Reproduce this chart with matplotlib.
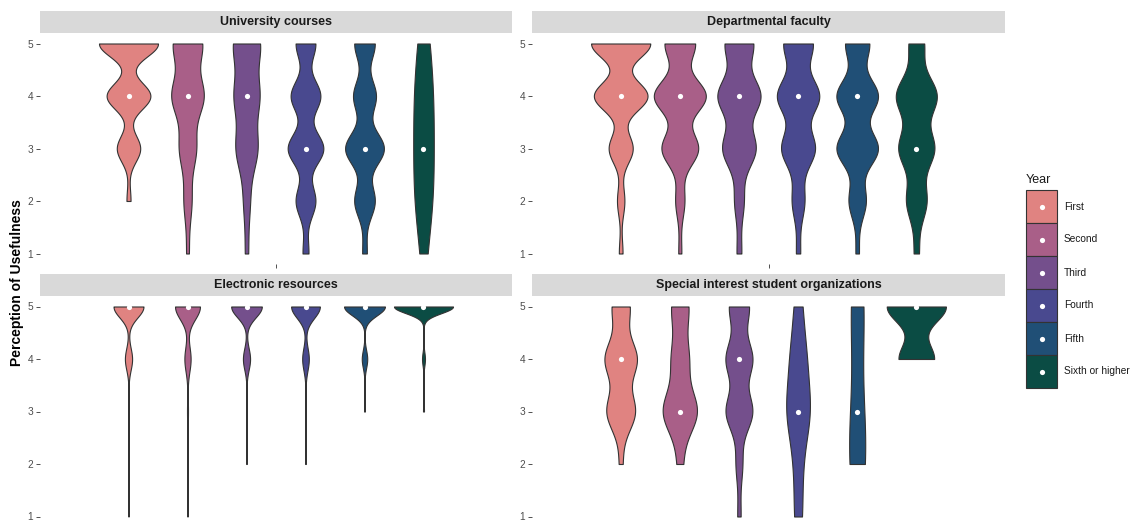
import numpy as np
import matplotlib
matplotlib.use("Agg")
import matplotlib.pyplot as plt
from matplotlib import cbook
from matplotlib.patches import Rectangle

plt.rcParams['font.family'] = ['Liberation Sans', 'DejaVu Sans']

# survey answers: number of students giving each rating (1..5), one row per year
levels = [1, 2, 3, 4, 5]
years = ["First", "Second", "Third", "Fourth", "Fifth", "Sixth or higher"]
colors = ["#E08381", "#A95F88", "#744F8C", "#49498F", "#204F76", "#0B4C44"]

univ_courses = [[0, 4, 23, 43, 58],
                [3, 9, 19, 36, 33],
                [3, 6, 20, 23, 25],
                [3, 10, 18, 15, 10],
                [2, 9, 17, 10, 9],
                [1, 3, 3, 3, 2]]
dept_faculty = [[2, 4, 13, 29, 32],
                [1, 3, 12, 17, 10],
                [1, 2, 7, 9, 6],
                [1, 3, 8, 10, 7],
                [1, 5, 12, 12, 7],
                [1, 4, 7, 8, 3]]
electronic = [[1, 1, 2, 24, 100],
              [1, 1, 3, 19, 76],
              [0, 1, 1, 14, 60],
              [0, 1, 1, 12, 52],
              [0, 0, 1, 6, 45],
              [0, 0, 1, 3, 60]]
special_orgs = [[0, 1, 8, 9, 5],
                [0, 1, 6, 3, 3],
                [1, 2, 8, 8, 6],
                [1, 1, 3, 2, 1],
                [0, 2, 1, 0, 2],
                [0, 0, 0, 3, 5]]

panel_titles = ["University courses", "Departmental faculty",
                "Electronic resources", "Special interest student organizations"]
panel_counts = [univ_courses, dept_faculty, electronic, special_orgs]


def bw_nrd0(x):
    # same rule as R's default bandwidth
    hi = np.std(x, ddof=1)
    q75, q25 = np.percentile(x, [75, 25])
    lo = min(hi, (q75 - q25) / 1.34)
    if lo == 0:
        lo = hi if hi else (abs(x[0]) or 1.0)
    return 0.9 * lo * len(x) ** -0.2


def kde(x, coords):
    bw = bw_nrd0(x)
    z = (coords[:, None] - x[None, :]) / bw
    return np.exp(-0.5 * z ** 2).sum(axis=1) / (len(x) * bw * np.sqrt(2 * np.pi))


W, H = 1135, 525
fig = plt.figure(figsize=(W / 100, H / 100), dpi=100)


def px_axes(x, y, w, h):
    return fig.add_axes([x / W, 1 - (y + h) / H, w / W, h / H])


# panel boxes in pixels (left, top, width, height)
boxes = [(40, 33, 472, 231), (532, 33, 473, 231),
         (40, 296, 472, 231), (532, 296, 473, 231)]
strip_h = 22

pos = 1 - 0.45 + 0.075 + 0.15 * np.arange(len(years))

for title, counts, (bx, by, bw_, bh) in zip(panel_titles, panel_counts, boxes):
    ax = px_axes(bx, by, bw_, bh)
    samples = [np.repeat(levels, c).astype(float) for c in counts]
    stats = cbook.violin_stats(samples, kde, points=512)
    pmax = max(s['vals'].max() for s in stats)
    widths = [0.15 * s['vals'].max() / pmax for s in stats]
    parts = ax.violin(stats, positions=pos, widths=widths,
                      showmeans=False, showextrema=False, showmedians=False)
    for body, col in zip(parts['bodies'], colors):
        body.set_facecolor(col)
        body.set_edgecolor('#333333')
        body.set_linewidth(0.8)
        body.set_alpha(1)
    ax.scatter(pos, [np.median(s) for s in samples], s=14, color='white',
               linewidths=0, zorder=3, clip_on=False)
    ax.set_xlim(0.4, 1.6)
    ax.set_ylim(0.8, 5.2)
    ax.set_yticks(levels)
    ax.set_xticks([1])
    ax.set_xticklabels([""])
    for sp in ax.spines.values():
        sp.set_visible(False)
    ax.tick_params(length=3, width=0.6, color='#333333', labelcolor='#4D4D4D',
                   labelsize=7.3, pad=2)

    sax = px_axes(bx, by - strip_h, bw_, strip_h)
    sax.set_facecolor('#D9D9D9')
    sax.set_xticks([])
    sax.set_yticks([])
    for sp in sax.spines.values():
        sp.set_visible(False)
    sax.text(0.5, 0.5, title, ha='center', va='center', fontsize=9,
             fontweight='bold', color='#1A1A1A', transform=sax.transAxes)

fig.text(17.5 / W, 1 - 283 / H, "Perception of Usefulness", rotation=90,
         ha='center', va='center', fontsize=10, fontweight='bold')

# legend
lax = fig.add_axes([0, 0, 1, 1])
lax.set_xlim(0, W)
lax.set_ylim(H, 0)
lax.axis('off')
lax.text(1026, 180, "Year", ha='left', va='center', fontsize=9, color='#1A1A1A')
key_w, key_h, key_top = 31, 33, 190
for i, (name, col) in enumerate(zip(years, colors)):
    y0 = key_top + i * key_h
    lax.add_patch(Rectangle((1026, y0), key_w, key_h, facecolor=col,
                            edgecolor='#333333', linewidth=0.8))
    lax.scatter([1026 + key_w / 2], [y0 + key_h / 2], s=14, color='white',
                linewidths=0, zorder=3)
    lax.text(1064, y0 + key_h / 2, name, ha='left', va='center', fontsize=7.3,
             color='#1A1A1A')

fig.savefig("out.png", dpi=100)
